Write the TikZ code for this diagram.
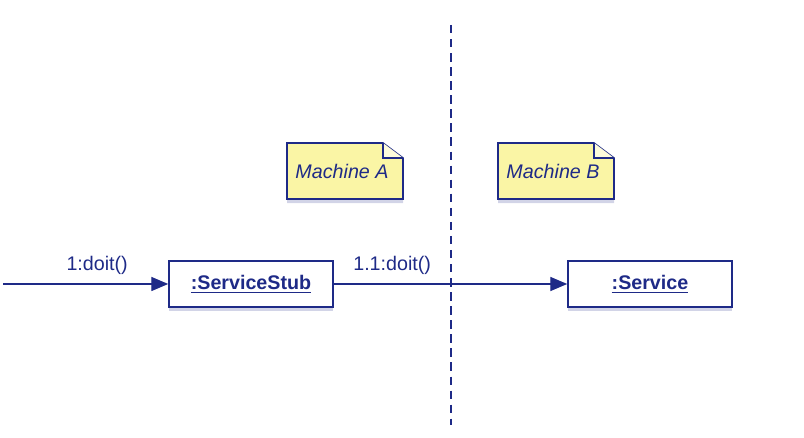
\documentclass[tikz,border=0pt]{standalone}
\usepackage{fontspec}
\setmainfont{Liberation Sans}
\usepackage{tikz}
\usetikzlibrary{arrows.meta,shadows}
\definecolor{umlblue}{RGB}{30,42,135}
\definecolor{notefill}{RGB}{250,245,165}
\newcommand{\fs}{\fontsize{14pt}{16pt}\selectfont}

\begin{document}
\begin{tikzpicture}[x=0.025cm,y=-0.025cm,
		shade/.style={drop shadow={shadow xshift=0pt,shadow yshift=-3pt,fill=umlblue,opacity=.2}},
		obj/.style={draw=umlblue,line width=1.1pt,fill=white,minimum width=4.1cm,minimum height=1.15cm,
			shade,text=umlblue,font=\fs\bfseries},
		msg/.style={->,>={Triangle[length=12pt,width=10pt]},draw=umlblue,line width=0.8pt},
		lbl/.style={text=umlblue,font=\fs}]
		\useasboundingbox (0,0) rectangle (804,438);
		%
		\draw[umlblue,line width=1pt,dash pattern=on 6pt off 4pt] (451,25) -- (451,425);
		%
		\foreach \x/\m in {287/A,498/B} {
			\path[shade,fill=notefill,draw=umlblue,line width=1.1pt]
				(\x,143) -- (\x+96,143) -- (\x+116,158) -- (\x+116,199) -- (\x,199) -- cycle;
			\draw[umlblue,line width=0.8pt,fill=white!60!notefill]
				(\x+96,143) -- (\x+96,158) -- (\x+116,158);
			\node[lbl,font=\fs\itshape] (m\m) at (\x+55,171) {Machine \m};
		}
		%
		\node[obj] (stub) at (251,284) {\underline{:ServiceStub}};
		\node[obj] (svc) at (650,284) {\underline{:Service}};
		\coordinate (in) at (3,284);
		%
		\path
		(in) edge[msg] node[lbl,above=3pt,pos=.57]{1:doit()} (stub)
		(stub) edge[msg] node[lbl,above=3pt,pos=.25]{1.1:doit()} (svc);
	\end{tikzpicture}
\end{document}
